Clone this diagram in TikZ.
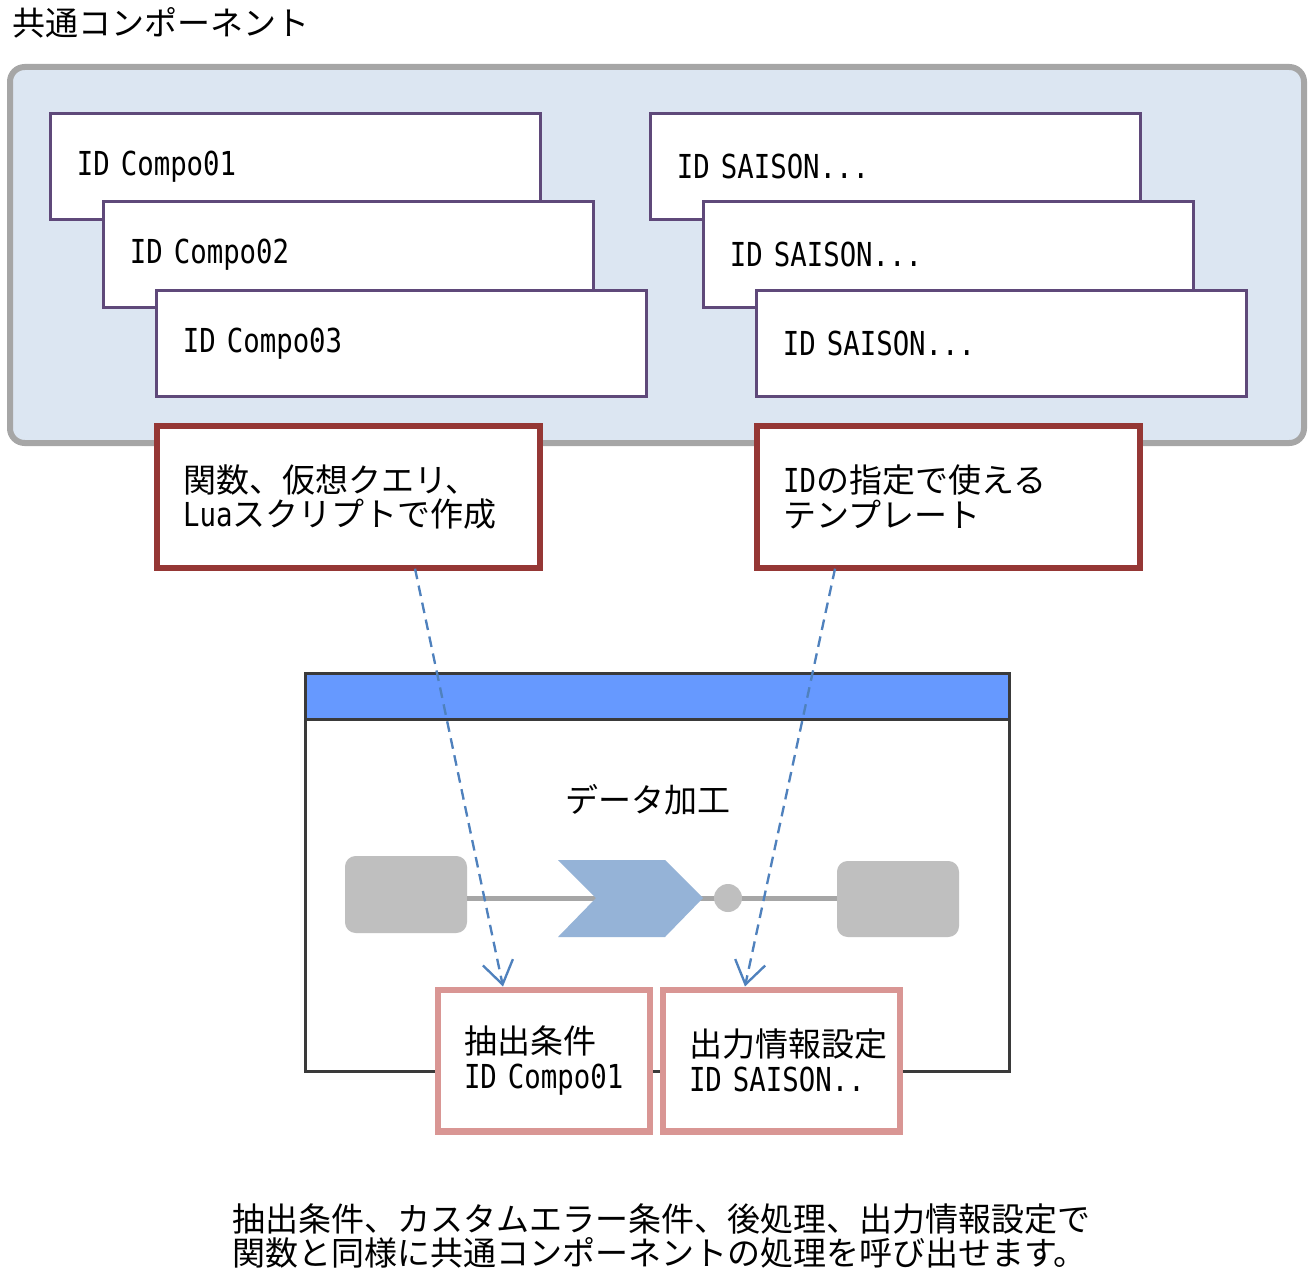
\documentclass[tikz,border=0pt]{standalone}
\usepackage{fontspec}
\setmainfont{Noto Sans CJK JP}
\newfontfamily\monofont[FakeStretch=0.83]{DejaVu Sans Mono}
\newcommand\lt[1]{{\monofont #1}}
\usetikzlibrary{arrows.meta}
\definecolor{outerfill}{HTML}{DCE6F2}
\definecolor{outerline}{HTML}{A6A6A6}
\definecolor{purpleC}{HTML}{5F497A}
\definecolor{redC}{HTML}{953735}
\definecolor{pinkC}{HTML}{D99694}
\definecolor{barC}{HTML}{6699FF}
\definecolor{arrowC}{HTML}{4F81BD}
\definecolor{chevC}{HTML}{95B3D7}
\definecolor{grayC}{HTML}{BFBFBF}
\definecolor{lineC}{HTML}{A6A6A6}
\definecolor{procC}{HTML}{3A3A3A}
\newcommand\bodyfont{\fontsize{24.75pt}{26pt}\selectfont}
\tikzset{
  compbox/.style={draw=purpleC, line width=2.25pt, fill=white, minimum width=368pt,
    minimum height=79pt, text width=328pt, inner xsep=20pt, inner ysep=0pt,
    align=left, font=\bodyfont},
  notebox/.style={draw=redC, line width=4.5pt, fill=white, minimum width=287pt,
    minimum height=106pt, text width=248pt, inner xsep=19.5pt, inner ysep=0pt,
    align=left, font=\bodyfont},
  condbox/.style={draw=pinkC, line width=5pt, fill=white,
    minimum height=106pt, inner xsep=19.5pt, inner ysep=0pt,
    align=left, font=\bodyfont},
  dasharrow/.style={draw=arrowC, line width=1.75pt, dash pattern=on 8pt off 5pt,
    -{Straight Barb[length=17pt,width=23pt,line width=1.75pt]}},
  graybox/.style={fill=grayC, rounded corners=8pt, draw=none},
  plain/.style={inner sep=0pt, font=\bodyfont, align=left}
}
\begin{document}
\begin{tikzpicture}[x=0.75pt,y=-0.75pt]
\useasboundingbox (0,0) rectangle (1314,1277);
% title
\node[plain, anchor=west] (title) at (12,23) {共通コンポーネント};
% outer container
\draw[draw=outerline, fill=outerfill, line width=4.5pt, rounded corners=11pt]
  (10,67) rectangle (1304,443);
% component boxes
\node[compbox] (c1) at (295.5,166.5) {\lt{ID Compo01}};
\node[compbox] (c2) at (348.5,254.5) {\lt{ID Compo02}};
\node[compbox] (c3) at (401.5,343.5) {\lt{ID Compo03}};
\node[compbox] (s1) at (895.5,166.5) {\lt{ID SAISON...}};
\node[compbox] (s2) at (948.5,254.5) {\lt{ID SAISON...}};
\node[compbox] (s3) at (1001.5,343.5) {\lt{ID SAISON...}};
% note boxes
\node[notebox] (n1) at (348.5,497) {関数、仮想クエリ、\\\lt{Lua}スクリプトで作成};
\node[notebox] (n2) at (948.5,497) {\lt{ID}の指定で使える\\テンプレート};
% process box
\draw[draw=procC, line width=2.25pt, fill=white] (305,673) rectangle (1009,1071);
\draw[draw=procC, line width=2.25pt, fill=barC] (305,673) rectangle (1009,719);
\node[plain] (proc) at (648,800) {データ加工};
% flow
\node[graybox, minimum width=91.5pt, minimum height=57.75pt] (g1) at (406,894.5) {};
\node[graybox, minimum width=91.5pt, minimum height=57pt] (g2) at (898,899) {};
\draw[draw=lineC, line width=3.75pt] (g1.east |- 0,898) -- (g2.west |- 0,898);
\fill[chevC] (558,860) -- (665,860) -- (703,898) -- (665,937) -- (558,937) -- (596,898) -- cycle;
\node[circle, fill=grayC, minimum size=21pt, inner sep=0pt] (dot) at (728,898) {};
% condition boxes
\node[condbox, minimum width=159pt, text width=120pt] (p1) at (544,1060.5) {抽出条件\\\lt{ID~Compo01}};
\node[condbox, minimum width=177.75pt, text width=138.75pt] (p2) at (781.5,1060.5) {出力情報設定\\\lt{ID~SAISON..}};
% arrows
\draw[dasharrow] ([xshift=49.9pt,yshift=1.5pt]n1.south) -- ([xshift=-30.75pt]p1.north);
\draw[dasharrow] ([xshift=-85.1pt,yshift=1.5pt]n2.south) -- ([xshift=-27.4pt]p2.north);
% caption
\node[plain, anchor=west] (cap) at (232,1236) {抽出条件、カスタムエラー条件、後処理、出力情報設定で\\関数と同様に共通コンポーネントの処理を呼び出せます。};
\end{tikzpicture}
\end{document}
